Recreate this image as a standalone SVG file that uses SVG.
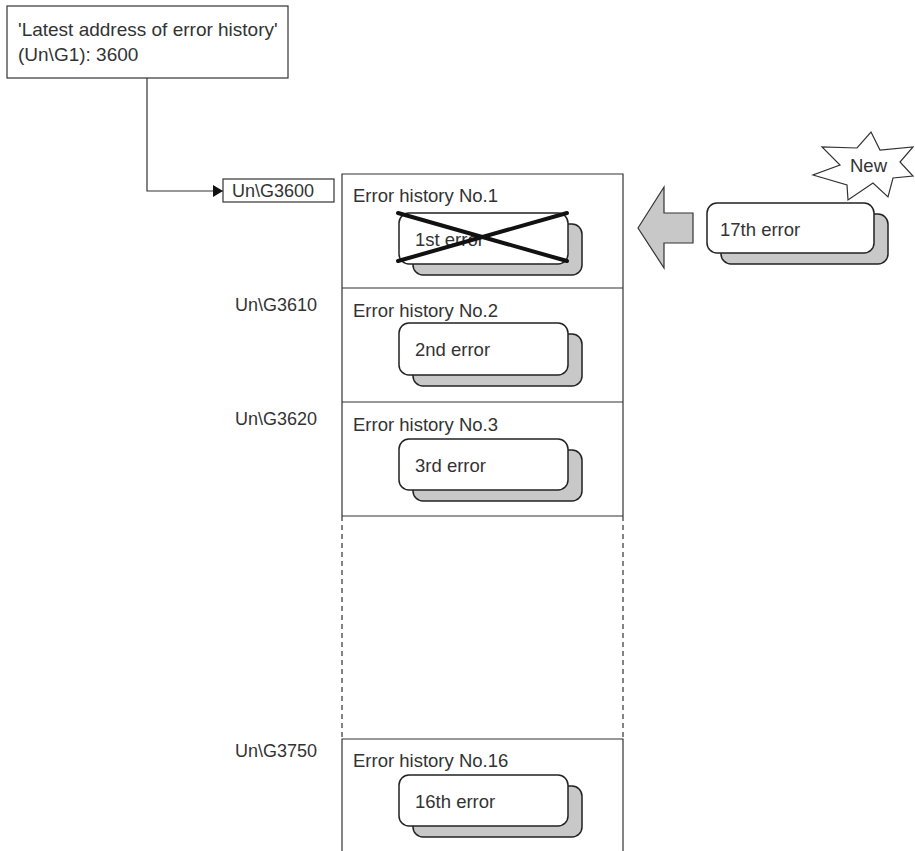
<svg xmlns="http://www.w3.org/2000/svg" width="915" height="851" viewBox="0 0 915 851">
<style>
text{font-family:"Liberation Sans",Arial,sans-serif;font-size:18.5px;fill:#333}
.lbl{font-size:18px}
.big{font-size:19px}
.box{fill:#fff;stroke:#333;stroke-width:1.2}
.col{fill:none;stroke:#333;stroke-width:1.2}
.dash{fill:none;stroke:#333;stroke-width:1.2;stroke-dasharray:5 4}
.front{fill:#fff;stroke:#222;stroke-width:1.5}
.shadow{fill:#c8c8c8;stroke:#222;stroke-width:1.5}
.cross{stroke:#111;stroke-width:4;stroke-linecap:round}
</style>
<defs>
<marker id="ah" viewBox="0 0 10 10" refX="10" refY="5" markerWidth="10" markerHeight="12" markerUnits="userSpaceOnUse" orient="auto" preserveAspectRatio="none">
<path d="M0,0 L10,5 L0,10 z" fill="#111"/>
</marker>
</defs>

<g id="connectors">
<path d="M147,78 V191 H223" fill="none" stroke="#333" stroke-width="1.2" marker-end="url(#ah)"/>
</g>

<g id="latest-box">
<rect class="box" x="7" y="6" width="281" height="72"/>
<text class="big" x="18" y="36">'Latest address of error history'</text>
<text class="big" x="18" y="61">(Un\G1): 3600</text>
</g>

<g id="addr-3600">
<rect class="box" x="223" y="179" width="111" height="23"/>
<text class="lbl" x="232" y="197">Un\G3600</text>
</g>
<g id="addr-3610"><text class="lbl" x="235" y="311">Un\G3610</text></g>
<g id="addr-3620"><text class="lbl" x="235" y="425">Un\G3620</text></g>
<g id="addr-3750"><text class="lbl" x="235" y="757">Un\G3750</text></g>

<g id="column">
<path class="col" d="M342,516 V174 H623 V516 M342,288 H623 M342,402 H623 M342,516 H623"/>
<path class="dash" d="M342,516 V739 M623,516 V739"/>
<path class="col" d="M342,851 V739 H623 V851"/>
</g>

<g id="row1">
<text x="353" y="202">Error history No.1</text>
<rect class="shadow" x="413" y="224" width="169" height="51" rx="10"/>
<rect class="front" x="399" y="213" width="169" height="51" rx="10"/>
<text x="415" y="246">1st error</text>
<line class="cross" x1="398" y1="213" x2="567" y2="261"/>
<line class="cross" x1="398" y1="261" x2="567" y2="213"/>
</g>

<g id="row2">
<text x="353" y="317">Error history No.2</text>
<rect class="shadow" x="413" y="334" width="169" height="52" rx="10"/>
<rect class="front" x="399" y="323" width="169" height="52" rx="10"/>
<text x="415" y="356">2nd error</text>
</g>

<g id="row3">
<text x="353" y="431">Error history No.3</text>
<rect class="shadow" x="413" y="450" width="169" height="51" rx="10"/>
<rect class="front" x="399" y="439" width="169" height="51" rx="10"/>
<text x="415" y="472">3rd error</text>
</g>

<g id="row16">
<text x="353" y="767">Error history No.16</text>
<rect class="shadow" x="413" y="786" width="169" height="51" rx="10"/>
<rect class="front" x="399" y="775" width="169" height="51" rx="10"/>
<text x="415" y="808">16th error</text>
</g>

<g id="big-arrow">
<path d="M638,228 L664,187 V213 H693 V243 H664 V268 Z" fill="#c8c8c8" stroke="#333" stroke-width="1.2"/>
</g>

<g id="err17">
<rect class="shadow" x="721" y="214" width="167" height="50" rx="10"/>
<rect class="front" x="707" y="203" width="167" height="50" rx="10"/>
<text x="720" y="236">17th error</text>
</g>

<g id="new-star">
<path d="M871,132 L880,150 L913,147 L900,162 L913,176 L893,178 L888,197 L873,183 L848,200 L847,185 L813,175 L840,165 L822,147 L857,148 Z" fill="#fff" stroke="#333" stroke-width="1.2"/>
<text x="850" y="172">New</text>
</g>
</svg>
